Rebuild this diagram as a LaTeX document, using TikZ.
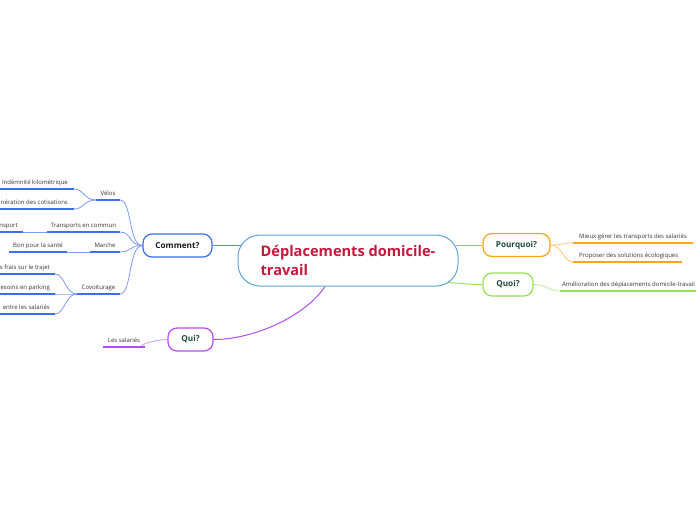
\documentclass[tikz,border=0pt]{standalone}
\usepackage{fontspec}
\setmainfont{Open Sans}
\usetikzlibrary{calc,backgrounds}
\definecolor{cblue}{HTML}{3A6FF0}
\definecolor{cbluem}{HTML}{5A88F2}
\definecolor{cbluel}{HTML}{7C9CF4}
\definecolor{corange}{HTML}{FFA31A}
\definecolor{corangel}{HTML}{FFC680}
\definecolor{cgreen}{HTML}{95E354}
\definecolor{cgreenl}{HTML}{BDEE92}
\definecolor{cpurple}{HTML}{B44CF2}
\definecolor{cpurplel}{HTML}{D49AF7}
\definecolor{cmain}{HTML}{5BA5DA}
\definecolor{ctitle}{HTML}{C8163D}
\definecolor{csubtext}{HTML}{1E4A3C}
\definecolor{cleaf}{HTML}{333333}
\tikzset{
  mainnode/.style={draw=cmain, fill=white, line width=1pt, rounded corners=22pt,
    minimum width=220pt, minimum height=51pt, inner sep=0pt, align=left,
    text=ctitle, font=\fontsize{14.6}{18.5}\selectfont\bfseries},
  subnode/.style={draw=#1, fill=white, line width=1.2pt, rounded corners=9pt,
    minimum height=23pt, inner sep=0pt, text=csubtext,
    font=\fontsize{8.2}{10}\selectfont\bfseries},
  leaf/.style={font=\fontsize{6}{7}\selectfont, text=cleaf, inner sep=0pt},
  uline/.style={line width=1.4pt},
  conn/.style={line width=0.8pt},
}
\begin{document}
\begin{tikzpicture}[x=1pt,y=-1pt]
\useasboundingbox (0,0) rectangle (696,520);
% main nodes
\node[mainnode] (central) at (348,260.5) {Déplacements domicile-\\travail};
\node[subnode=cblue, minimum width=69pt, text=black!90] (comment) at (177.5,245.5) {Comment?};
\node[subnode=corange, minimum width=67pt] (pourquoi) at (516.5,245) {Pourquoi?};
\node[subnode=cgreen, minimum width=50pt] (quoi) at (508,284.5) {Quoi?};
\node[subnode=cpurple, minimum width=45pt] (qui) at (190.5,339.5) {Qui?};

% left leaf coordinates
\coordinate (velosR) at (120,200); \coordinate (velosL) at (96,200);
\coordinate (indR) at (74,189); \coordinate (indL) at (-5,189);
\coordinate (exoR) at (74,209); \coordinate (exoL) at (-5,209);
\coordinate (tcR) at (120,232); \coordinate (tcL) at (47,232);
\coordinate (nspR) at (23,232); \coordinate (nspL) at (-5,232);
\coordinate (marR) at (120,252); \coordinate (marL) at (90,252);
\coordinate (bonR) at (67,252); \coordinate (bonL) at (9,252);
\coordinate (covR) at (120,294); \coordinate (covL) at (77,294);
\coordinate (fraR) at (55,274); \coordinate (fraL) at (-5,274);
\coordinate (besR) at (55,294); \coordinate (besL) at (-5,294);
\coordinate (entR) at (55,314); \coordinate (entL) at (-5,314);
\coordinate (salR) at (145,347); \coordinate (salL) at (103,347);
% right leaf coordinates
\coordinate (mieL) at (573,243); \coordinate (mieR) at (693,243);
\coordinate (proL) at (573,262); \coordinate (proR) at (682,262);
\coordinate (ameL) at (560,291); \coordinate (ameR) at (700,291);

% leaf texts
\node[leaf, anchor=base] (velos) at (108,195) {Vélos};
\node[leaf, anchor=base east] (ind) at (68,184) {Indémnité kilométrique};
\node[leaf, anchor=base east] (exo) at (68,204) {nération des cotisations};
\node[leaf, anchor=base] (tc) at (83.5,227) {Transports en commun};
\node[leaf, anchor=base east] (nsp) at (18,227) {nsport};
\node[leaf, anchor=base] (marche) at (105,247) {Marche};
\node[leaf, anchor=base] (bon) at (38,247) {Bon pour la santé};
\node[leaf, anchor=base] (cov) at (98.5,289) {Covoiturage};
\node[leaf, anchor=base east] (fra) at (50,269) {s frais sur le trajet};
\node[leaf, anchor=base east] (bes) at (50,289) {esoins en parking};
\node[leaf, anchor=base east] (ent) at (50,309) {entre les salariés};
\node[leaf, anchor=base] (sal) at (124,342) {Les salariés};
\node[leaf, anchor=base west] (mie) at (579,238) {Mieux gérer les transports des salariés};
\node[leaf, anchor=base west] (pro) at (579,257) {Proposer des solutions écologiques};
\node[leaf, anchor=base west] (ame) at (562,286) {Amélioration des déplacements domicile-travail};

\begin{pgfonlayer}{background}
% main connectors
\draw[conn, cbluem, line width=1pt] (comment.east) -- ([xshift=3pt]central.west |- comment.east);
\draw[conn, corange, line width=1pt] (pourquoi.west) -- ([xshift=-3pt]central.east |- pourquoi.west);
\draw[conn, cgreen, line width=1pt] ($(central.south east)+(-11,-4)$) .. controls +(18,1) and +(-14,0) .. (quoi.west);
\draw[conn, cpurple, line width=1pt] ($(central.south)+(-23,0)$) .. controls +(-20,30) and +(40,0) .. (qui.east);
% comment children
\foreach \t in {velosR,tcR,marR,covR}
  \draw[conn, cbluel] (comment.west) .. controls +(-14,0) and +(12,0) .. (\t);
\foreach \t in {indR,exoR}
  \draw[conn, cbluel] (velosL) .. controls +(-12,0) and +(10,0) .. (\t);
\foreach \t in {fraR,besR,entR}
  \draw[conn, cbluel] (covL) .. controls +(-12,0) and +(10,0) .. (\t);
\draw[conn, cbluel] (tcL) -- (nspR);
\draw[conn, cbluel] (marL) -- (bonR);
% other children
\foreach \t in {mieL,proL}
  \draw[conn, corangel] (pourquoi.east) .. controls +(12,0) and +(-10,0) .. (\t);
\draw[conn, cgreenl] (quoi.east) .. controls +(14,0) and +(-12,0) .. (ameL);
\draw[conn, cpurplel] (qui.west) .. controls +(-14,0) and +(-12,0) .. (salR);
\end{pgfonlayer}
% underlines
\foreach \a/\b in {velosL/velosR, indL/indR, exoL/exoR, tcL/tcR, nspL/nspR, marL/marR, bonL/bonR, covL/covR, fraL/fraR, besL/besR, entL/entR}
  \draw[uline, cblue] (\a) -- (\b);
\draw[uline, cpurple] (salL) -- (salR);
\draw[uline, corange] (mieL) -- (mieR);
\draw[uline, corange] (proL) -- (proR);
\draw[uline, cgreen] (ameL) -- (ameR);
\end{tikzpicture}
\end{document}
